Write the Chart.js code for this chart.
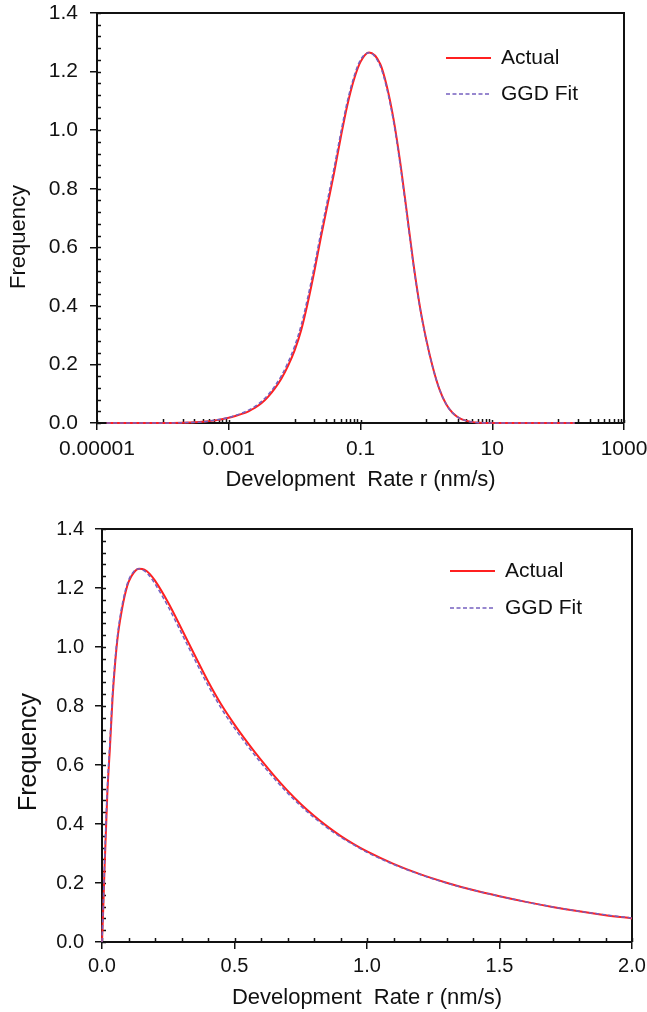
<!DOCTYPE html>
<html lang="en">
<head>
  <meta charset="UTF-8">
  <title>Development Rate Distribution</title>
  <script src="https://cdn.jsdelivr.net/npm/chart.js@4"></script>
  <style>
    body { margin: 0; background: #fff; }
    .panel { position: absolute; left: 0; width: 647px; }
  </style>
</head>
<body>
  <div class="panel" style="top: 0; height: 500px;"><canvas id="logChart"></canvas></div>
  <div class="panel" style="top: 500px; height: 512px;"><canvas id="linChart"></canvas></div>

  <script>
    // Upper panel: rate on a log axis (nm/s)
    const logRate = [1.4e-5, 1e-4, 2e-4, 4e-4, 6.3e-4, 0.001, 0.00126, 0.00158, 0.002, 0.00251,
      0.00316, 0.00398, 0.00501, 0.00631, 0.00794, 0.01, 0.0126, 0.0158, 0.02, 0.0251,
      0.0316, 0.0398, 0.0501, 0.0631, 0.0794, 0.1, 0.135, 0.2,
      0.251, 0.316, 0.398, 0.501, 0.631, 0.794, 1.0, 1.26, 1.58, 2.0,
      2.51, 3.16, 3.98, 5.01, 6.31, 10, 31.6, 178];
    const logActual = [0, 0, 0.001, 0.004, 0.009, 0.018, 0.024, 0.031, 0.040, 0.052,
      0.068, 0.090, 0.118, 0.152, 0.195, 0.248, 0.318, 0.410, 0.520, 0.635,
      0.745, 0.855, 0.975, 1.085, 1.172, 1.233, 1.265, 1.225,
      1.150, 1.040, 0.895, 0.725, 0.550, 0.400, 0.283, 0.188, 0.115, 0.064,
      0.034, 0.017, 0.008, 0.003, 0.001, 0, 0, 0];
    const logFit = [0, 0, 0.001, 0.004, 0.010, 0.019, 0.026, 0.034, 0.044, 0.057,
      0.074, 0.097, 0.126, 0.162, 0.207, 0.262, 0.335, 0.428, 0.538, 0.652,
      0.762, 0.872, 0.990, 1.098, 1.182, 1.240, 1.264, 1.218,
      1.142, 1.032, 0.886, 0.718, 0.545, 0.397, 0.281, 0.187, 0.115, 0.064,
      0.034, 0.017, 0.008, 0.003, 0.001, 0, 0, 0];
    const logTicks = [1e-5, 1e-3, 0.1, 10, 1000];
    const logTickLabels = ['0.00001', '0.001', '0.1', '10', '1000'];

    // Lower panel: same distribution on a linear axis
    const linRate = [0, 0.005, 0.01, 0.02, 0.03, 0.04, 0.05, 0.06, 0.07, 0.08,
      0.09, 0.10, 0.12, 0.14, 0.16, 0.18, 0.20, 0.25, 0.30, 0.35,
      0.40, 0.45, 0.50, 0.55, 0.60, 0.65, 0.70, 0.75, 0.80, 0.85,
      0.90, 0.95, 1.00, 1.10, 1.20, 1.30, 1.40, 1.50, 1.60, 1.70,
      1.80, 1.90, 2.00];
    const linActual = [0, 0.12, 0.26, 0.50, 0.66, 0.83, 0.95, 1.040, 1.100, 1.150,
      1.190, 1.220, 1.252, 1.265, 1.262, 1.248, 1.225, 1.150, 1.062, 0.972,
      0.884, 0.805, 0.737, 0.675, 0.617, 0.563, 0.513, 0.468, 0.428, 0.392,
      0.360, 0.332, 0.307, 0.265, 0.230, 0.201, 0.176, 0.155, 0.136, 0.119,
      0.104, 0.091, 0.080];
    const linFit = [0, 0.13, 0.28, 0.52, 0.68, 0.845, 0.962, 1.050, 1.112, 1.160,
      1.198, 1.226, 1.256, 1.265, 1.258, 1.240, 1.214, 1.136, 1.047, 0.957,
      0.870, 0.792, 0.725, 0.664, 0.607, 0.554, 0.505, 0.461, 0.422, 0.387,
      0.356, 0.329, 0.304, 0.263, 0.229, 0.200, 0.176, 0.155, 0.136, 0.119,
      0.104, 0.092, 0.081];
    const linTicks = [0, 0.5, 1.0, 1.5, 2.0];
    const linTickLabels = ['0.0', '0.5', '1.0', '1.5', '2.0'];

    const freqTicks = [0, 0.2, 0.4, 0.6, 0.8, 1.0, 1.2, 1.4];
    const freqTickLabels = ['0.0', '0.2', '0.4', '0.6', '0.8', '1.0', '1.2', '1.4'];

    const seriesNames = ['Actual', 'GGD Fit'];

    const FONT = '"Liberation Sans", Arial, sans-serif';
    const INK = '#111';
    const RED = '#ff2020';
    const PURPLE = '#7560c0';

    // minor tick positions
    function logMinor(majors) {
      const out = [];
      for (let i = 0; i < majors.length - 1; i++) {
        const step = majors[i] * 10;
        for (let k = 1; k <= 9; k++) out.push(step * k);
      }
      return out;
    }
    function linMinor(lo, hi, step) {
      const out = [];
      for (let v = lo; v <= hi + 1e-9; v += step) out.push(+v.toFixed(4));
      return out;
    }

    // box frame, inner tick marks, rotated y title and the key
    const framePlugin = {
      id: 'frame',
      beforeDatasetsDraw(chart, args, o) {
        const { ctx, chartArea: a, scales: { x, y } } = chart;
        ctx.save();
        ctx.strokeStyle = INK;
        ctx.lineWidth = 1.5;
        ctx.beginPath();
        o.xMajor.forEach(v => { const p = Math.round(x.getPixelForValue(v)) + 0.5; ctx.moveTo(p, a.bottom); ctx.lineTo(p, a.bottom - 3); });
        o.xMinor.forEach(v => { const p = Math.round(x.getPixelForValue(v)) + 0.5; ctx.moveTo(p, a.bottom); ctx.lineTo(p, a.bottom - 4); });
        o.yMajor.forEach(v => { const p = Math.round(y.getPixelForValue(v)) + 0.5; ctx.moveTo(a.left, p); ctx.lineTo(a.left + 3, p); });
        o.yMinor.forEach(v => { const p = Math.round(y.getPixelForValue(v)) + 0.5; ctx.moveTo(a.left, p); ctx.lineTo(a.left + 4, p); });
        ctx.stroke();
        ctx.lineWidth = 2;
        ctx.beginPath();
        ctx.moveTo(a.left, a.top);
        ctx.lineTo(a.right, a.top);
        ctx.lineTo(a.right, a.bottom);
        ctx.stroke();
        ctx.restore();
      },
      afterDraw(chart, args, o) {
        const ctx = chart.ctx;
        ctx.save();
        ctx.fillStyle = INK;
        ctx.font = o.yTitleSize + 'px ' + FONT;
        ctx.textAlign = 'center';
        ctx.textBaseline = 'middle';
        ctx.translate(o.yTitleX, o.yTitleY);
        ctx.rotate(-Math.PI / 2);
        ctx.fillText('Frequency', 0, 0);
        ctx.restore();

        ctx.save();
        ctx.font = '21px ' + FONT;
        ctx.textBaseline = 'middle';
        chart.data.datasets.forEach((ds, i) => {
          const ly = o.keyY[i];
          ctx.beginPath();
          ctx.strokeStyle = ds.borderColor;
          ctx.lineWidth = ds.borderWidth;
          ctx.setLineDash(ds.borderDash || []);
          ctx.moveTo(o.keyX, ly);
          ctx.lineTo(o.keyX + 45, ly);
          ctx.stroke();
          ctx.setLineDash([]);
          ctx.fillStyle = INK;
          ctx.fillText(ds.label, o.keyX + 55, ly);
        });
        ctx.restore();
      }
    };

    function series(xs, ys, i) {
      const fit = i === 1;
      return {
        label: seriesNames[i],
        data: xs.map((r, k) => ({ x: r, y: ys[k] })),
        showLine: true,
        borderColor: fit ? PURPLE : RED,
        borderWidth: fit ? 1.5 : 2,
        borderDash: fit ? [4, 2.5] : [],
        pointRadius: 0,
        cubicInterpolationMode: 'monotone',
        clip: false,
        order: fit ? 1 : 2
      };
    }

    function axisStyle(extra) {
      return Object.assign({
        grid: { drawOnChartArea: false, drawTicks: true, tickLength: 7, color: INK, lineWidth: 1.5 },
        border: { color: INK, width: 2 }
      }, extra);
    }

    function buildChart(id, cfg) {
      return new Chart(document.getElementById(id), {
        type: 'scatter',
        data: { datasets: [series(cfg.xs, cfg.actual, 0), series(cfg.xs, cfg.fit, 1)] },
        options: {
          responsive: true,
          maintainAspectRatio: false,
          animation: false,
          events: [],
          layout: { padding: cfg.padding },
          plugins: {
            legend: { display: false },
            tooltip: { enabled: false },
            frame: cfg.frame
          },
          scales: {
            x: axisStyle(Object.assign({
              afterBuildTicks: s => { s.ticks = cfg.xTicks.map(v => ({ value: v })); },
              afterFit: s => { s.height = cfg.xHeight; s.paddingLeft = 0; s.paddingRight = 0; },
              ticks: {
                callback: (v, i) => cfg.xLabels[i],
                autoSkip: false, maxRotation: 0, padding: cfg.xTickPad,
                color: INK, font: { family: FONT, size: cfg.tickSize }
              },
              title: {
                display: true, text: 'Development  Rate r (nm/s)', color: INK,
                font: { family: FONT, size: 22 }, padding: { top: 0, bottom: cfg.xTitlePad }
              }
            }, cfg.xScale)),
            y: axisStyle({
              min: 0, max: 1.4,
              afterBuildTicks: s => { s.ticks = freqTicks.map(v => ({ value: v })); },
              afterFit: s => { s.width = cfg.yWidth; s.paddingTop = 0; s.paddingBottom = 0; },
              ticks: {
                callback: (v, i) => freqTickLabels[i],
                autoSkip: false, padding: cfg.yTickPad,
                color: INK, font: { family: FONT, size: cfg.tickSize }
              }
            })
          }
        },
        plugins: [framePlugin]
      });
    }

    const yMinor = linMinor(0, 1.4, 0.04);

    buildChart('logChart', {
      xs: logRate, actual: logActual, fit: logFit,
      xTicks: logTicks, xLabels: logTickLabels,
      xScale: { type: 'logarithmic', min: 1e-5, max: 1000 },
      padding: { top: 13, right: 23, left: 0, bottom: 0 },
      xHeight: 77, yWidth: 97, xTickPad: 7, yTickPad: 12, xTitlePad: 7, tickSize: 21,
      frame: {
        xMajor: logTicks, xMinor: logMinor(logTicks),
        yMajor: freqTicks, yMinor: yMinor,
        yTitleX: 19, yTitleY: 237, yTitleSize: 22,
        keyX: 446, keyY: [58, 94]
      }
    });

    buildChart('linChart', {
      xs: linRate, actual: linActual, fit: linFit,
      xTicks: linTicks, xLabels: linTickLabels,
      xScale: { type: 'linear', min: 0, max: 2 },
      padding: { top: 29, right: 15, left: 0, bottom: 0 },
      xHeight: 70, yWidth: 102, xTickPad: 5, yTickPad: 11, xTitlePad: 1, tickSize: 20,
      frame: {
        xMajor: linTicks, xMinor: linMinor(0, 2, 0.1),
        yMajor: freqTicks, yMinor: yMinor,
        yTitleX: 29, yTitleY: 252, yTitleSize: 25,
        keyX: 450, keyY: [71, 108]
      }
    });
  </script>
</body>
</html>
